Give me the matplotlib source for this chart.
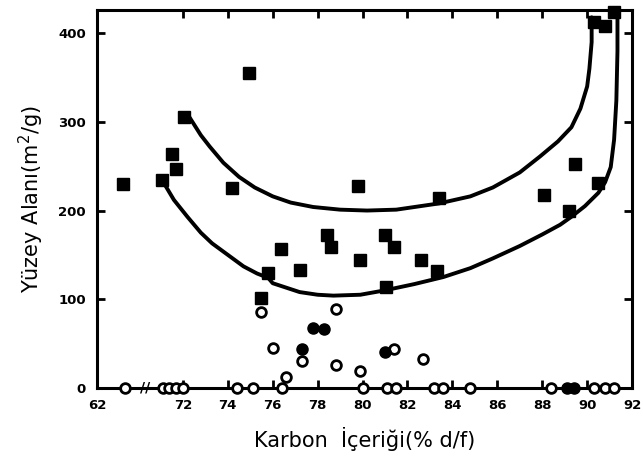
import numpy as np
import matplotlib.pyplot as plt

# filled squares (karbon %, m2/g)
sq_x = [66.9, 71.05, 71.5, 71.7, 72.04, 74.93, 74.2, 79.8, 76.36, 75.8, 78.4, 78.6,
        77.2, 79.87, 75.5, 83.4, 81.0, 81.4, 82.6, 83.3, 81.05,
        89.47, 88.1, 89.2, 90.5, 90.3, 90.8, 91.2]
sq_y = [230, 234, 264, 247, 306, 355, 225, 228, 157, 129, 172, 159,
        133, 144, 101, 214, 172, 159, 144, 132, 114,
        252, 218, 199, 231, 413, 408, 424]

# open circles
oc_x = [75.5, 78.8, 76.0, 77.3, 78.8, 76.6, 79.9, 81.4, 82.7,
        67.2, 71.1, 71.4, 71.7, 72.0, 74.4, 75.1, 76.4, 80.0, 81.1, 81.5,
        83.2, 83.6, 84.8, 88.4, 90.3, 90.8, 91.2]
oc_y = [85, 89, 45, 30, 26, 12, 19, 44, 32,
        0, 0, 0, 0, 0, 0, 0, 0, 0, 0, 0,
        0, 0, 0, 0, 0, 0, 0]

# filled circles
fc_x = [77.8, 78.3, 77.3, 81.0, 89.1, 89.4]
fc_y = [68, 66, 44, 40, 0, 0]

# upper curve
up_x = [72.3, 72.8, 73.2, 73.8, 74.5, 75.2, 76.0, 76.8, 77.8, 79.0, 80.2, 81.5,
        83.4, 84.8, 85.8, 87.0, 87.9, 88.7, 89.3, 89.7, 90.0, 90.1, 90.2, 90.2]
up_y = [305, 285, 272, 254, 238, 226, 216, 209, 204, 201, 200, 201,
        208, 216, 226, 243, 261, 278, 294, 315, 340, 360, 390, 418]

# lower curve
lo_x = [71.2, 71.6, 72.2, 72.8, 73.3, 74.0, 74.7, 75.3, 75.8, 76.0, 76.6, 77.2,
        78.0, 78.7, 79.9, 81.0, 82.3, 83.6, 84.8, 85.8, 87.0, 88.0, 88.8, 89.3,
        89.9, 90.5, 90.8, 91.05, 91.2, 91.3, 91.35, 91.35]
lo_y = [229, 212, 193, 175, 163, 150, 137, 129, 124, 118, 113, 108,
        105, 104, 105, 110, 117, 125, 135, 146, 160, 173, 184, 193,
        205, 220, 232, 249, 280, 324, 380, 425]

x_ticks = [62, 72, 74, 76, 78, 80, 82, 84, 86, 88, 90, 92]
y_ticks = [0, 100, 200, 300, 400]

# broken x axis: 62..70.1 squeezed
brk_real = [-1000, 62, 70.1, 1000]
brk_pos = [-1000 + 6.18, 68.18, 70.1, 1000]

def fwd(v):
    return np.interp(v, brk_real, brk_pos)

def inv(v):
    return np.interp(v, brk_pos, brk_real)

fig = plt.figure(figsize=(6.43, 4.65), dpi=100)
ax = fig.add_axes([0.151, 0.166, 0.832, 0.812])
ax.set_xscale('function', functions=(fwd, inv))

ax.plot(up_x, up_y, color='black', lw=2.8, solid_capstyle='round')
ax.plot(lo_x, lo_y, color='black', lw=2.8, solid_capstyle='round')
ax.plot(sq_x, sq_y, 's', color='black', ms=9, clip_on=False)
ax.plot(oc_x, oc_y, 'o', mfc='white', mec='black', mew=2, ms=7, clip_on=False, zorder=4)
ax.plot(fc_x, fc_y, 'o', color='black', ms=8, clip_on=False, zorder=4)

ax.text(70.3, 0, '//', ha='center', va='center', fontsize=10, fontweight='bold',
        zorder=5)

ax.set_xlim(62, 92)
ax.set_ylim(0, 426)
ax.set_xticks(x_ticks)
ax.set_xticklabels([str(t) for t in x_ticks])
ax.set_yticks(y_ticks)
ax.tick_params(direction='in', length=6, width=2, top=True, right=True,
               labelsize=9.5, pad=8)
for lab in ax.get_xticklabels() + ax.get_yticklabels():
    lab.set_fontweight('bold')
for s in ax.spines.values():
    s.set_linewidth(2.2)

ax.set_xlabel('Karbon  İçeriği(% d/f)', fontsize=15, labelpad=11)
ax.set_ylabel('Yüzey Alanı(m$^2$/g)', fontsize=15, labelpad=9)

fig.savefig('out.png', dpi=100)
